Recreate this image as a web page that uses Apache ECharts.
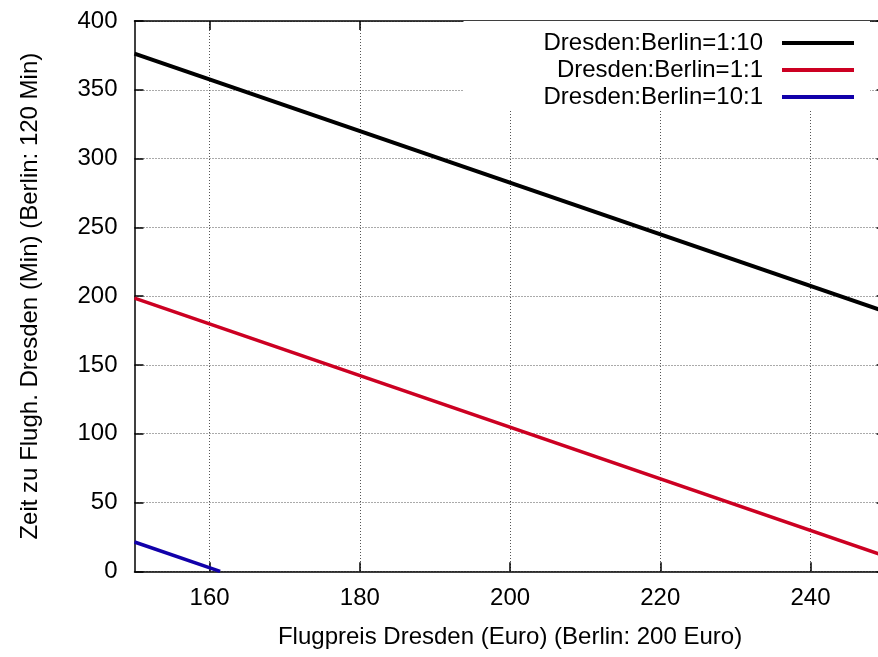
<!DOCTYPE html>
<html>
<head>
<meta charset="utf-8">
<script src="https://cdn.jsdelivr.net/npm/echarts@6/dist/echarts.min.js"></script>
<style>
html, body { margin: 0; padding: 0; background: #fff; }
#chart { width: 878px; height: 657px; }
</style>
</head>
<body>
<div id="chart"></div>
<script>
// Data
const seriesNames = ['Dresden:Berlin=1:10', 'Dresden:Berlin=1:1', 'Dresden:Berlin=10:1'];
const priceBlack = [150, 250];
const timeBlack = [376.3, 188.6];
const priceRed = [150, 250];
const timeRed = [198.5, 11.0];
const priceBlue = [150, 161.4];
const timeBlue = [21.3, 0];
const xTicks = [160, 180, 200, 220, 240];
const xMin = 150, xMax = 250;
const yMin = 0, yMax = 400, yStep = 50;
const xTitle = 'Flugpreis Dresden (Euro) (Berlin: 200 Euro)';
const yTitle = 'Zeit zu Flugh. Dresden (Min) (Berlin: 120 Min)';

const pairs = (xs, ys) => xs.map((x, i) => [x, ys[i]]);
const FONT = 'Liberation Sans';
const FS = 24;

const chart = echarts.init(document.getElementById('chart'), null, { renderer: 'canvas' });

const gridLine = { show: true, lineStyle: { color: '#555', width: 1, type: [1, 2] } };
const borderLine = { show: true, onZero: false, lineStyle: { color: '#000', width: 1.5 } };

chart.setOption({
  animation: false,
  backgroundColor: '#fff',
  textStyle: { fontFamily: FONT },
  grid: { left: 134.5, top: 21, right: -7.6, bottom: 85.7, containLabel: false, outerBoundsMode: 'none' },
  legend: {
    data: seriesNames,
    orient: 'vertical',
    align: 'right',
    right: 8,
    top: 21,
    padding: [10, 16, 1, 80],
    backgroundColor: '#fff',
    icon: 'rect',
    itemWidth: 72,
    itemHeight: 4,
    itemGap: 3,
    textStyle: { fontFamily: FONT, fontSize: FS, color: '#000', lineHeight: 24, padding: [0, 14, 0, 0] },
    z: 10
  },
  xAxis: [
    {
      type: 'value', position: 'bottom', min: xMin, max: xMax,
      axisLine: borderLine,
      axisTick: { show: true, inside: true, length: 9, customValues: xTicks, lineStyle: { color: '#000', width: 1.5 } },
      axisLabel: { show: true, customValues: xTicks, margin: 15, fontFamily: FONT, fontSize: FS, color: '#000' },
      splitLine: gridLine,
      name: xTitle, nameLocation: 'middle', nameGap: 54,
      nameTextStyle: { fontFamily: FONT, fontSize: FS, color: '#000' }
    },
    {
      type: 'value', position: 'top', min: xMin, max: xMax,
      axisLine: borderLine,
      axisTick: { show: true, inside: true, length: 9, customValues: xTicks, lineStyle: { color: '#000', width: 1.5 } },
      axisLabel: { show: false },
      splitLine: { show: false }
    }
  ],
  yAxis: [
    {
      type: 'value', position: 'left', min: yMin, max: yMax, interval: yStep,
      axisLine: borderLine,
      axisTick: { show: true, inside: true, length: 9, lineStyle: { color: '#000', width: 1.5 } },
      axisLabel: { show: true, margin: 17, fontFamily: FONT, fontSize: FS, color: '#000' },
      splitLine: gridLine,
      name: yTitle, nameLocation: 'middle', nameGap: 92, nameRotate: 90,
      nameTextStyle: { fontFamily: FONT, fontSize: FS, color: '#000' }
    },
    {
      type: 'value', position: 'right', min: yMin, max: yMax, interval: yStep,
      axisLine: borderLine,
      axisTick: { show: true, inside: true, length: 9, lineStyle: { color: '#000', width: 1.5 } },
      axisLabel: { show: false },
      splitLine: { show: false }
    }
  ],
  series: [
    {
      name: seriesNames[0], type: 'line', data: pairs(priceBlack, timeBlack),
      showSymbol: false, symbol: 'none', color: '#000',
      lineStyle: { color: '#000', width: 4 }, z: 3
    },
    {
      name: seriesNames[1], type: 'line', data: pairs(priceRed, timeRed),
      showSymbol: false, symbol: 'none', color: '#cc0022',
      lineStyle: { color: '#cc0022', width: 3.5 }, z: 3
    },
    {
      name: seriesNames[2], type: 'line', data: pairs(priceBlue, timeBlue),
      showSymbol: false, symbol: 'none', color: '#1100aa',
      lineStyle: { color: '#1100aa', width: 3.5 }, z: 3
    }
  ]
});
</script>
</body>
</html>
